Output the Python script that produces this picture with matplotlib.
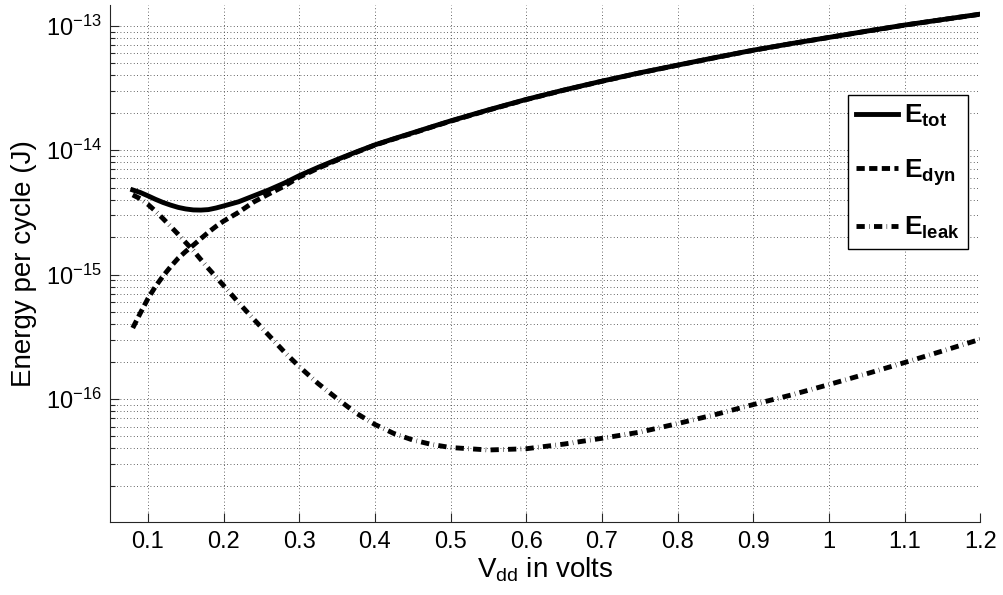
import matplotlib
matplotlib.use('Agg')
import matplotlib.pyplot as plt
from matplotlib.ticker import LogLocator, NullFormatter
import numpy as np

plt.rcParams['font.family'] = ['Liberation Sans', 'DejaVu Sans']
plt.rcParams['mathtext.fontset'] = 'custom'
plt.rcParams['mathtext.rm'] = 'Liberation Sans'
plt.rcParams['mathtext.it'] = 'Liberation Sans:italic'
plt.rcParams['mathtext.bf'] = 'Liberation Sans:bold'

# supply voltage (V)
vdd = [0.08, 0.09, 0.10, 0.11, 0.12, 0.13, 0.14, 0.15, 0.16, 0.17, 0.18, 0.19, 0.20,
       0.22, 0.24, 0.26, 0.28, 0.30,
       0.325, 0.35, 0.375, 0.40, 0.425, 0.45, 0.475, 0.50,
       0.55, 0.60, 0.65, 0.70, 0.75, 0.80, 0.85, 0.90, 0.95, 1.00, 1.05, 1.10, 1.15, 1.20]

# energy per cycle (J)
e_tot = [4.79e-15, 4.57e-15, 4.30e-15, 4.03e-15, 3.80e-15, 3.62e-15, 3.47e-15, 3.37e-15,
         3.31e-15, 3.30e-15, 3.33e-15, 3.43e-15, 3.56e-15,
         3.85e-15, 4.30e-15, 4.80e-15, 5.43e-15, 6.24e-15,
         7.28e-15, 8.41e-15, 9.66e-15, 1.104e-14, 1.236e-14, 1.38e-14, 1.542e-14, 1.72e-14,
         2.11e-14, 2.56e-14, 3.05e-14, 3.59e-14, 4.19e-14, 4.83e-14, 5.56e-14, 6.37e-14,
         7.19e-14, 8.07e-14, 9.06e-14, 1.014e-13, 1.122e-13, 1.242e-13]

e_dyn = [3.72e-16, 4.90e-16, 6.40e-16, 8.02e-16, 9.72e-16, 1.156e-15, 1.352e-15, 1.535e-15,
         1.722e-15, 1.945e-15, 2.19e-15, 2.44e-15, 2.69e-15,
         3.17e-15, 3.84e-15, 4.45e-15, 5.13e-15, 6.07e-15,
         7.16e-15, 8.32e-15, 9.59e-15, 1.099e-14, 1.23e-14, 1.37e-14, 1.535e-14, 1.71e-14,
         2.10e-14, 2.55e-14, 3.04e-14, 3.58e-14, 4.18e-14, 4.82e-14, 5.55e-14, 6.36e-14,
         7.18e-14, 8.06e-14, 9.05e-14, 1.013e-13, 1.121e-13, 1.239e-13]

e_leak = [4.37e-15, 4.07e-15, 3.67e-15, 3.24e-15, 2.82e-15, 2.44e-15, 2.11e-15, 1.81e-15,
          1.56e-15, 1.32e-15, 1.12e-15, 9.57e-16, 8.17e-16,
          5.94e-16, 4.37e-16, 3.24e-16, 2.40e-16, 1.82e-16,
          1.33e-16, 1.007e-16, 7.71e-17, 6.24e-17, 5.28e-17, 4.68e-17, 4.31e-17, 4.07e-17,
          3.89e-17, 3.98e-17, 4.34e-17, 4.83e-17, 5.41e-17, 6.34e-17, 7.50e-17, 9.02e-17,
          1.076e-16, 1.306e-16, 1.596e-16, 1.963e-16, 2.43e-16, 3.02e-16]

labels = [r'$\mathbf{E_{tot}}$', r'$\mathbf{E_{dyn}}$', r'$\mathbf{E_{leak}}$']
xticks = [0.1, 0.2, 0.3, 0.4, 0.5, 0.6, 0.7, 0.8, 0.9, 1.0, 1.1, 1.2]
xticklabels = ['0.1', '0.2', '0.3', '0.4', '0.5', '0.6', '0.7', '0.8', '0.9', '1', '1.1', '1.2']
yticks = [1e-16, 1e-15, 1e-14, 1e-13]

fig = plt.figure(figsize=(10.04, 5.95), dpi=100)
ax = fig.add_axes([0.1096, 0.1222, 0.8668, 0.8694])

lw = 3.5
ax.plot(vdd, e_tot, color='k', lw=lw, ls='-', label=labels[0])
ax.plot(vdd, e_dyn, color='k', lw=lw, ls=(0, (1.7, 0.9)), label=labels[1])
ax.plot(vdd, e_leak, color='k', lw=lw, ls=(0, (1.7, 0.9, 0.1, 0.9)), label=labels[2])

ax.set_yscale('log')
ax.set_xlim(0.05, 1.2)
ax.set_ylim(1.02e-17, 1.47e-13)
ax.set_xticks(xticks)
ax.set_xticklabels(xticklabels)
ax.set_yticks(yticks)
ax.yaxis.set_minor_locator(LogLocator(base=10, subs=np.arange(2, 10), numticks=20))
ax.yaxis.set_minor_formatter(NullFormatter())

ax.grid(True, which='major', axis='both', ls=(0, (1, 3)), color='#333333', lw=0.6)
ax.grid(True, which='minor', axis='y', ls=(0, (1, 3)), color='#333333', lw=0.6)

for s in ['top', 'right']:
    ax.spines[s].set_visible(False)
for s in ['left', 'bottom']:
    ax.spines[s].set_color('#262626')
    ax.spines[s].set_linewidth(0.8)

ax.tick_params(which='major', direction='in', length=6.5, width=0.8, color='#262626',
               labelsize=17, pad=6, top=False, right=False)
ax.tick_params(which='minor', direction='in', length=3.8, width=0.8, color='#262626',
               top=False, right=False)

ax.set_xlabel(r'V$_{\mathregular{dd}}$ in volts', fontsize=20, labelpad=2)
ax.set_ylabel('Energy per cycle (J)', fontsize=20, labelpad=6)

leg = ax.legend(loc='upper right', bbox_to_anchor=(0.986, 0.826), borderaxespad=0,
                fontsize=19, handlelength=1.6, labelspacing=1.05, handletextpad=0.25,
                borderpad=0.3, fancybox=False, framealpha=1)
leg.get_frame().set_edgecolor('k')
leg.get_frame().set_linewidth(1.0)

plt.savefig('out.png', dpi=100)
